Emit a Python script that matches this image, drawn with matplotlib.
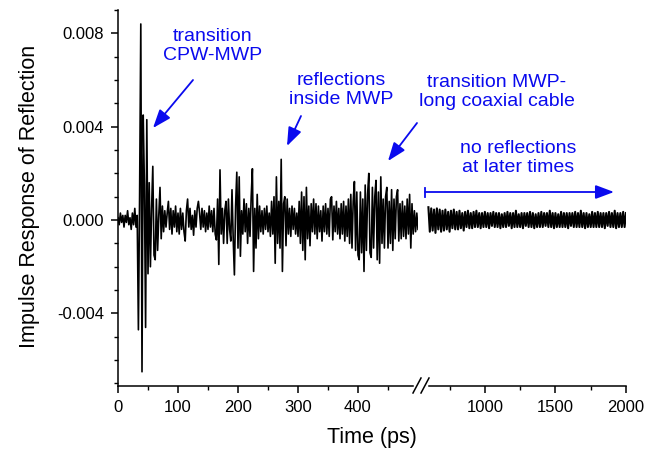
import numpy as np
import matplotlib.pyplot as plt
from matplotlib.lines import Line2D
from matplotlib.patches import FancyArrowPatch

plt.rcParams['font.family'] = ['Liberation Sans', 'DejaVu Sans']

# early part of the response, sampled every 2 ps from 0 to 500 ps (values in 1e-3)
timeEarly = np.arange(0, 502, 2)
respEarly = [
    0.1, -0.2, 0.3, -0.1, 0.2, -0.3, 0.2, -0.1, 0.4, -0.2,
    0.1, -0.4, 0.3, -0.2, 0.5, -0.3, 0.2, -4.7, 1.0, 8.4,
    -6.5, 4.5, 1.5, -4.6, 4.3, -2.3, 1.6, -2.0, 0.5, 2.3,
    -1.5, -1.7, 0.9, -1.3, 0.2, 1.4, -0.8, 0.6, -0.5, 0.4,
    -0.3, 0.3, 0.8, -0.4, 0.5, -0.6, 0.4, -0.3, 0.6, -0.5,
    0.3, -0.6, 0.5, -0.4, 0.3, -0.5, -0.9, 0.4, 0.9, -0.3,
    0.5, -0.4, 0.2, -0.65, 0.4, -0.3, 0.5, 0.8, 0.3, -0.4,
    0.5, -0.3, 0.4, -0.5, 0.3, -0.4, 0.6, -0.3, 0.4, -0.5,
    0.5, -0.6, -0.85, 0.9, -1.9, 2.15, -0.6, 0.5, -1.0, 0.4,
    0.8, -1.0, 0.9, -0.4, -0.9, 1.3, -0.8, -2.35, 0.6, 2.05,
    -1.2, 1.85, -1.55, 0.4, -0.6, 0.9, -0.5, 0.7, -1.0, 0.5,
    -0.7, 1.0, 2.2, -2.2, 0.5, -1.2, 1.1, -0.8, 0.6, -0.5,
    0.4, -0.6, 0.5, -0.4, 0.6, -0.5, 0.3, -0.7, 0.8, -0.6,
    1.0, -1.85, 1.85, -1.0, 0.8, -1.2, 2.6, -2.2, 0.7, 1.0,
    -1.1, 0.9, -0.6, 0.5, -0.7, 0.6, -0.4, 0.5, -0.6, 0.3,
    -0.7, 0.8, -1.0, 1.2, -1.3, 1.0, -1.7, 1.4, -0.8, 0.6,
    -1.1, 0.7, -0.5, 0.9, -0.6, 0.7, -0.8, 0.6, -0.5, 0.4,
    -0.9, 0.6, -0.5, 0.7, -0.6, 0.5, -0.7, 0.9, 1.0, -0.85,
    0.6, -0.5, 0.8, -0.6, 0.5, -0.8, 0.7, -0.6, 0.8, -0.9,
    0.6, -0.7, 0.9, -1.0, 1.1, -1.2, 0.8, 1.65, -1.3, 1.2,
    -1.5, -1.7, 1.2, -1.4, 0.9, -2.2, 1.5, -1.3, 1.1, 2.0,
    -1.4, -1.6, 1.4, -1.2, 1.0, 1.7, -1.7, 1.2, -1.85, 1.85,
    -1.0, 0.9, -1.2, 1.0, 1.4, -1.2, 0.8, -1.0, 1.3, -1.3,
    0.9, -0.8, 1.0, 1.3, -0.9, 0.7, -0.8, 0.8, -0.7, 0.6,
    -0.8, 0.9, -0.6, 1.1, -1.2, 0.7, -0.6, 0.4, -0.5, 0.3,
    -0.4,
]

# late part, sampled every 10 ps from 600 to 2000 ps (values in 1e-3)
timeLate = np.arange(600, 2010, 10)
respLate = [
    0.55, -0.5, 0.5, -0.45, 0.45, -0.55, 0.5, -0.4, 0.45, -0.5,
    0.4, -0.45, 0.45, -0.4, 0.35, -0.5, 0.4, -0.35, 0.45, -0.4,
    0.35, -0.4, 0.4, -0.35, 0.3, -0.45, 0.35, -0.3, 0.4, -0.35,
    0.3, -0.35, 0.35, -0.3, 0.4, -0.3, 0.3, -0.35, 0.3, -0.3,
    0.35, -0.3, 0.3, -0.35, 0.3, -0.25, 0.35, -0.3, 0.3, -0.3,
    0.3, -0.35, 0.25, -0.3, 0.3, -0.3, 0.35, -0.25, 0.3, -0.35,
    0.3, -0.3, 0.4, -0.3, 0.25, -0.3, 0.3, -0.35, 0.3, -0.25,
    0.3, -0.3, 0.35, -0.3, 0.3, -0.35, 0.25, -0.3, 0.3, -0.3,
    0.35, -0.3, 0.3, -0.25, 0.3, -0.3, 0.4, -0.3, 0.3, -0.35,
    0.3, -0.3, 0.25, -0.3, 0.35, -0.3, 0.3, -0.3, 0.3, -0.35,
    0.3, -0.25, 0.3, -0.3, 0.35, -0.3, 0.3, -0.3, 0.4, -0.3,
    0.3, -0.35, 0.3, -0.3, 0.25, -0.3, 0.35, -0.3, 0.3, -0.3,
    0.35, -0.3, 0.3, -0.3, 0.3, -0.35, 0.3, -0.25, 0.35, -0.3,
    0.3, -0.3, 0.4, -0.35, 0.3, -0.3, 0.3, -0.3, 0.35, -0.3,
    0.3,
]

yTicks = [-0.004, 0.0, 0.004, 0.008]
yTickLabels = ["-0.004", "0.000", "0.004", "0.008"]
xTicksLeft = [0, 100, 200, 300, 400]
xTicksRight = [1000, 1500, 2000]

W, H = 660, 450
blue = "#0a0aee"

def figPos(x, y):
    # pixel position (from top-left) -> figure fraction
    return (x / W, 1 - y / H)

fig = plt.figure(figsize=(6.6, 4.5), dpi=100)
axL = fig.add_axes([118 / W, 1 - 386 / H, 300 / W, 376 / H])
axR = fig.add_axes([427 / W, 1 - 386 / H, 199 / W, 376 / H])

ylim = (-0.00711, 0.009)

axL.plot(timeEarly, np.array(respEarly) * 1e-3, color="black", lw=1.2)
axR.plot(timeLate, np.array(respLate) * 1e-3, color="black", lw=1.5)

for ax in (axL, axR):
    ax.set_ylim(*ylim)
    ax.spines["top"].set_visible(False)
    ax.spines["right"].set_visible(False)
    ax.spines["bottom"].set_linewidth(1.1)
    ax.spines["left"].set_linewidth(1.1)
    ax.tick_params(which="major", direction="out", length=5, width=1.1, labelsize=12, pad=5)
    ax.tick_params(which="minor", direction="out", length=3, width=1.0)
    ax.patch.set_visible(False)

axL.set_xlim(0, 500)
axL.set_xticks(xTicksLeft)
axL.set_xticks([50, 150, 250, 350, 450], minor=True)
axL.set_yticks(yTicks, yTickLabels)
axL.set_yticks(np.arange(-0.007, 0.0095, 0.001), minor=True)
axL.spines["bottom"].set_bounds(0, 492)

axR.set_xlim(590, 2000)
axR.set_xticks(xTicksRight)
axR.set_xticks([750, 1250, 1750], minor=True)
axR.spines["left"].set_visible(False)
axR.set_yticks([])
axR.set_yticks([], minor=True)
axR.spines["bottom"].set_bounds(605, 2000)

# axis break marks
for x0 in (413, 421):
    (xa, ya), (xb, yb) = figPos(x0, 393), figPos(x0 + 8, 378)
    fig.add_artist(Line2D([xa, xb], [ya, yb], transform=fig.transFigure, color="black", lw=1.1))

fig.text(*figPos(372, 437), "Time (ps)", ha="center", va="center", fontsize=15.5)
fig.text(*figPos(30, 196), "Impulse Response of Reflection", ha="center", va="center",
         rotation=90, fontsize=15.5)

# annotations
notes = [
    ("transition\nCPW-MWP", 213, 46),
    ("reflections\ninside MWP", 341, 90),
    ("transition MWP-\nlong coaxial cable", 497, 92),
    ("no reflections\nat later times", 518, 158),
]
for txt, x, y in notes:
    fig.text(*figPos(x, y), txt, ha="center", va="center", fontsize=14,
             color=blue, linespacing=1.2)

arrows = [((193, 80), (153, 128)), ((301, 116), (287, 146)), ((417, 123), (388, 161))]
for tail, head in arrows:
    fig.add_artist(FancyArrowPatch(figPos(*tail), figPos(*head), transform=fig.transFigure,
                                   arrowstyle="-|>,head_length=0.8,head_width=0.3",
                                   mutation_scale=14, color=blue, lw=1.3,
                                   shrinkA=0, shrinkB=0))

fig.add_artist(FancyArrowPatch(figPos(425, 192), figPos(614, 192), transform=fig.transFigure,
                               arrowstyle="-|>,head_length=0.8,head_width=0.3",
                               mutation_scale=14, color=blue, lw=1.3,
                               shrinkA=0, shrinkB=0))
(xa, ya), (xb, yb) = figPos(425, 188), figPos(425, 197)
fig.add_artist(Line2D([xa, xb], [ya, yb], transform=fig.transFigure, color=blue, lw=1.3))

fig.savefig("out.png", dpi=100)
